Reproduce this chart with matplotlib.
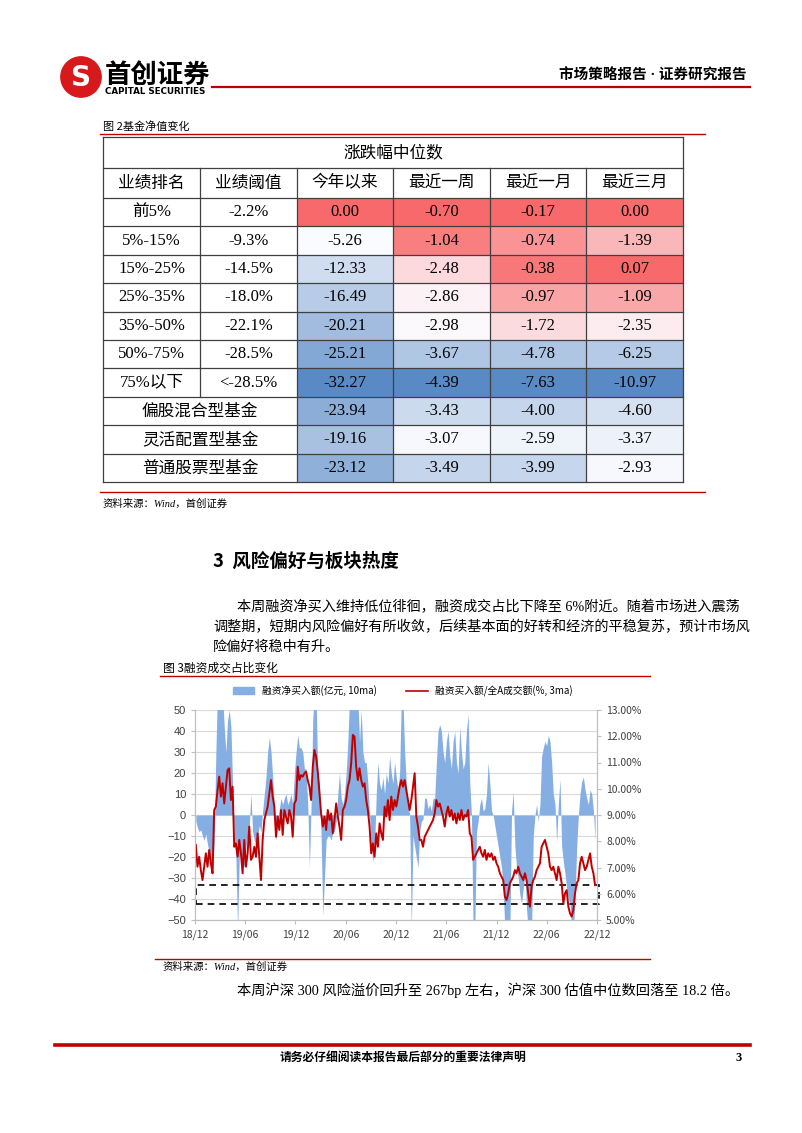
import numpy as np
import pandas as pd
import matplotlib
matplotlib.use('Agg')
import matplotlib.pyplot as plt
from matplotlib.patches import Rectangle, Circle, Patch
from matplotlib.lines import Line2D
from matplotlib.colors import LinearSegmentedColormap, TwoSlopeNorm
from matplotlib.transforms import blended_transform_factory

SERIF = ['Liberation Serif', 'Noto Sans CJK SC']
SANS = ['Noto Sans CJK SC', 'DejaVu Sans']
plt.rcParams['font.family'] = SERIF

# ---- table data (图 2) ----
rank_labels = ['前5%', '5%-15%', '15%-25%', '25%-35%', '35%-50%', '50%-75%', '75%以下']
thresholds = ['-2.2%', '-9.3%', '-14.5%', '-18.0%', '-22.1%', '-28.5%', '<-28.5%']
fund_types = ['偏股混合型基金', '灵活配置型基金', '普通股票型基金']
col_heads = ['业绩排名', '业绩阈值', '今年以来', '最近一周', '最近一月', '最近三月']
ytd = [0.00, -5.26, -12.33, -16.49, -20.21, -25.21, -32.27, -23.94, -19.16, -23.12]
week = [-0.70, -1.04, -2.48, -2.86, -2.98, -3.67, -4.39, -3.43, -3.07, -3.49]
month1 = [-0.17, -0.74, -0.38, -0.97, -1.72, -4.78, -7.63, -4.00, -2.59, -3.99]
month3 = [0.00, -1.39, 0.07, -1.09, -2.35, -6.25, -10.97, -4.60, -3.37, -2.93]

# ---- chart data (图 3) ----
# 融资买入额/全A成交额 (%, 3ma)
ratio_pct = [
    7.86, 7.03, 7.41, 6.90, 6.52, 7.03, 7.54, 7.03, 7.67, 7.16, 6.78,
    9.19, 9.32, 9.95, 10.46, 9.70, 10.21, 9.44, 10.08, 10.71, 10.78,
    9.57, 10.08, 7.79, 7.92, 7.41, 8.05, 7.54, 6.78, 8.05, 7.03,
    7.54, 8.56, 7.29, 7.41, 7.79, 7.41, 8.30, 7.41, 6.52, 8.05,
    8.81, 9.06, 9.32, 9.83, 10.33, 9.70, 9.32, 8.17, 8.94, 8.43,
    9.19, 8.24, 9.19, 8.94, 8.68, 9.19, 8.94, 8.17, 9.44, 9.57,
    10.84, 10.33,
    10.52, 10.46, 10.59, 10.65, 10.33, 10.08, 9.57, 10.84, 11.48, 11.22,
    10.65, 9.83, 9.06, 8.56, 8.94, 8.43, 9.19, 8.81, 9.06, 8.30,
    8.81, 9.44, 8.94, 8.56, 8.05, 9.19, 9.32, 9.57, 10.08, 10.33,
    10.97, 12.05, 11.98, 10.84, 10.33, 10.78, 10.33, 10.08, 10.21, 9.57,
    9.19, 8.56, 7.54, 7.92, 7.41, 8.30, 7.79, 8.68, 8.30, 8.05,
    9.32, 8.94, 9.57, 8.81, 9.70, 9.19, 9.57, 9.32, 9.70, 10.08,
    10.33, 10.08, 10.33, 9.95, 9.57, 9.19, 9.57, 10.08, 10.59, 8.94,
    8.56, 8.05,
    8.05, 7.79, 8.17, 8.30, 8.43, 8.56, 8.68, 8.81, 9.06, 9.57,
    9.32, 9.44, 9.19, 8.94, 8.56, 9.06, 9.32, 8.94, 9.19, 8.81,
    9.06, 8.68, 9.06, 8.81, 9.19, 8.81, 9.00, 8.94, 9.19, 8.30,
    8.17, 7.29, 7.41, 7.54, 7.67, 7.79, 7.54, 7.41, 7.67, 7.29,
    7.54, 7.41, 7.54, 7.29, 7.41, 7.16, 7.03, 6.78, 6.65, 6.52,
    5.89, 5.76, 6.02, 6.40, 6.52, 6.65, 6.90, 6.78, 7.03, 6.78,
    6.65, 6.52, 6.78, 6.52, 6.02, 5.51, 6.27, 6.52, 6.65, 6.90,
    7.03, 7.16, 7.79, 7.92, 8.05, 7.79, 7.54, 7.03, 6.90, 7.03,
    6.78, 6.52, 7.03, 6.78, 6.40, 5.63, 6.02, 6.14, 5.51, 5.25,
    5.13, 5.38, 6.02, 6.40, 6.52, 7.16, 7.41, 7.16, 6.90, 7.03,
    7.29, 7.54, 7.03, 6.78, 6.33,
]
# 融资净买入额 (亿元, 10ma)
net_buy = [
    -3, -6, -8, -7, -10, -12, -9, -14, -18, -25, -28,
    -12, 30, 60, 65, 60, 58, 42, 30, 45, 50,
    42, 15, -10, -20, -55, -20, -18, -22, -25, -15,
    -10, -5, 10, -8, -12, -15, -10, -5, -8, 2,
    10, 18, 30, 37, 30, 18, 5, -12, -5, 3,
    8, 5, 8, 10, 5, 7, 10, 5, 20, 30,
    38, 32,
    32, 30, 22, 22, 5, -25, 5, 45, 60, 55,
    20, 15, -10, -48, -30, -12, -10, -10, -12, -8,
    -8, -3, 10, 20, 8, 5, 10, 20, 35, 55,
    60, 65, 60, 60, 55, 35, 50, 30, 25, 25,
    15, 0, -15, -22, -15, 10, 25, 15, 12, 18,
    10, 20, 15, 28, 20, 15, 25, 18, 12, 20,
    55, 55, 30, 15, 5, 0, -55, -10, -15, -20,
    -25, -8,
    -3, -2, 8, 8, 3, 5, 2, 8, 8, 25,
    40, 43, 40, 30, 25, 35, 40, 28, 22, 35,
    40, 25, 20, 42, 30, 22, 25, 40, 48, 15,
    0, -55, -55, -8, -3, 5, 8, 2, 3, 10,
    25, 15, 2, 0, -5, -10, -15, -20, -25, -35,
    -55, -55, -55, -55, 2, 11, -15, -25, -30, -38,
    -42, -35, -28, -45, -55, -55, -55, -10, 0, 5,
    -3, 5, 28, 32, 35, 33, 38, 35, 25, 10,
    5, -13, 5, 17, -15, -22, -28, -35, -40, -42,
    -55, -55, -40, -15, 0, 10, 16, 18, 12, 8,
    5, 12, 10, 2, -12,
]

RED = '#C00000'
BLUE = '#85AEE3'

W, H = 802, 1133
fig = plt.figure(figsize=(W / 100, H / 100), dpi=100)


def fx(x):
    return x / W


def fy(y):
    return 1 - y / H


def txt(x, y, s, **kw):
    kw.setdefault('va', 'center')
    fig.text(fx(x), fy(y), s, **kw)


def hline(x0, x1, y, lw=1.0, color=RED):
    fig.add_artist(Line2D([fx(x0), fx(x1)], [fy(y), fy(y)], lw=lw, color=color))


# ---- page header ----
ax_logo = fig.add_axes([fx(60), fy(98), 42 / W, 42 / H])
ax_logo.set_xlim(0, 1)
ax_logo.set_ylim(0, 1)
ax_logo.set_aspect('equal')
ax_logo.axis('off')
ax_logo.add_patch(Circle((0.5, 0.5), 0.48, color='#D7191C'))
ax_logo.text(0.5, 0.47, 'S', color='white', fontsize=20, fontweight='bold',
             ha='center', va='center', family='DejaVu Sans')
txt(105, 75, '首创证券', fontsize=19, fontweight='bold', family=SANS)
txt(105, 92, 'CAPITAL SECURITIES', fontsize=6.3, fontweight='bold', family='DejaVu Sans')
txt(747, 76, '市场策略报告 · 证券研究报告', fontsize=10.5, fontweight='bold', ha='right', family=SERIF)
hline(212, 750, 87, lw=1.6)

# ---- 图 2 table ----
txt(103, 127, '图 2基金净值变化', fontsize=8, family=SANS)
hline(100, 705, 134, lw=1.0)

ax_t = fig.add_axes([fx(103), fy(482), (683 - 103) / W, (482 - 137) / H])
ax_t.set_xlim(103, 683)
ax_t.set_ylim(482, 137)
ax_t.axis('off')

xe = [103, 200, 297, 393, 490, 586, 683]
ye = [137, 168, 198] + [198 + 28.4 * (i + 1) for i in range(10)]

cmap = LinearSegmentedColormap.from_list('xl', ['#5A8AC6', '#FCFCFF', '#F8696B'])
cols = [ytd, week, month1, month3]
mids = [-5.0, np.median(week), np.median(month1), np.median(month3)]
for c, vals in enumerate(cols):
    norm = TwoSlopeNorm(vcenter=mids[c], vmin=min(vals), vmax=max(vals))
    for r, v in enumerate(vals):
        ax_t.add_patch(Rectangle((xe[c + 2], ye[r + 2]), xe[c + 3] - xe[c + 2],
                                 ye[r + 3] - ye[r + 2], color=cmap(norm(v)), lw=0))
        ax_t.text((xe[c + 2] + xe[c + 3]) / 2, (ye[r + 2] + ye[r + 3]) / 2, f'{v:.2f}',
                  ha='center', va='center', fontsize=12, family=SERIF)

for r in range(10):
    yc = (ye[r + 2] + ye[r + 3]) / 2
    if r < len(rank_labels):
        ax_t.text((xe[0] + xe[1]) / 2, yc, rank_labels[r], ha='center', va='center',
                  fontsize=12, family=SERIF)
        ax_t.text((xe[1] + xe[2]) / 2, yc, thresholds[r], ha='center', va='center',
                  fontsize=12, family=SERIF)
    else:
        ax_t.text((xe[0] + xe[2]) / 2, yc, fund_types[r - len(rank_labels)], ha='center',
                  va='center', fontsize=12, family=SANS)

ax_t.text((xe[0] + xe[-1]) / 2, (ye[0] + ye[1]) / 2, '涨跌幅中位数', ha='center',
          va='center', fontsize=12, family=SANS)
for c, h in enumerate(col_heads):
    ax_t.text((xe[c] + xe[c + 1]) / 2, (ye[1] + ye[2]) / 2, h, ha='center', va='center',
              fontsize=12, family=SANS)

LC = '#404040'
for y in ye:
    ax_t.plot([xe[0], xe[-1]], [y, y], color=LC, lw=0.9)
for i, x in enumerate(xe):
    if i in (0, len(xe) - 1):
        ax_t.plot([x, x], [ye[0], ye[-1]], color=LC, lw=0.9)
    elif i == 1:
        ax_t.plot([x, x], [ye[1], ye[9]], color=LC, lw=0.9)
    else:
        ax_t.plot([x, x], [ye[1], ye[-1]], color=LC, lw=0.9)
for a in ax_t.lines:
    a.set_clip_on(False)

hline(100, 705, 492, lw=1.0)
txt(103, 504, '资料来源：Wind，首创证券', fontsize=7.5, style='italic', family=SERIF)

# ---- section text ----
txt(213, 561, '3  风险偏好与板块热度', fontsize=13.3, fontweight='bold', family=SANS)
txt(237, 607, '本周融资净买入维持低位徘徊，融资成交占比下降至 6%附近。随着市场进入震荡',
    fontsize=10.2, family=SERIF)
txt(213, 627, '调整期，短期内风险偏好有所收敛，后续基本面的好转和经济的平稳复苏，预计市场风',
    fontsize=10.2, family=SERIF)
txt(213, 647, '险偏好将稳中有升。', fontsize=10.2, family=SERIF)

# ---- 图 3 chart ----
txt(163, 668, '图 3融资成交占比变化', fontsize=8.5, family=SANS)
hline(160, 650, 676, lw=1.0)

ax = fig.add_axes([fx(195), fy(920), (597 - 195) / W, (920 - 710) / H])
dates = pd.date_range('2018-12-04', '2022-11-24', periods=len(ratio_pct))
ax.fill_between(dates, 0, net_buy, color=BLUE, lw=0)
ax.set_ylim(-50, 50)
ax.set_yticks(range(-50, 51, 10))
ax.set_axisbelow(True)
ax.grid(axis='y', color='#D9D9D9', lw=0.8)
ax.set_xlim(pd.Timestamp('2018-12-01'), pd.Timestamp('2022-12-01'))
xt = pd.date_range('2018-12-01', '2022-12-01', freq='6MS')
ax.set_xticks(xt)
ax.set_xticklabels([d.strftime('%y/%m') for d in xt], family=SANS, fontsize=7.5)

ax2 = ax.twinx()
ax2.plot(dates, ratio_pct, color=RED, lw=1.4)
ax2.set_ylim(5, 13)
ax2.set_yticks(range(5, 14))
ax2.set_yticklabels([f'{v:.2f}%' for v in range(5, 14)], family=SANS, fontsize=7.5)

for a in (ax, ax2):
    a.spines['top'].set_visible(False)
    for s in ('left', 'right', 'bottom'):
        a.spines[s].set_color('#BFBFBF')
    a.tick_params(colors='#BFBFBF', labelcolor='#404040', length=3)
ax.tick_params(axis='y', labelsize=8)
for lab in ax.get_yticklabels():
    lab.set_family('Liberation Sans')

trans = blended_transform_factory(ax2.transAxes, ax2.transData)
ax2.add_patch(Rectangle((0.003, 5.62), 1.002, 0.71, transform=trans, fill=False,
                        ec='black', lw=1.2, ls=(0, (4, 3)), clip_on=False))

handles = [Patch(color=BLUE, label='融资净买入额(亿元, 10ma)'),
           Line2D([], [], color=RED, lw=1.2, label='融资买入额/全A成交额(%, 3ma)')]
ax.legend(handles=handles, loc='center', bbox_to_anchor=(fx(403), fy(691)),
          bbox_transform=fig.transFigure, ncol=2, frameon=False, columnspacing=3,
          handlelength=2.2, prop={'family': SANS, 'size': 7})

hline(155, 650, 959, lw=1.0)
txt(163, 967, '资料来源：Wind，首创证券', fontsize=7.5, style='italic', family=SERIF)
txt(237, 990, '本周沪深 300 风险溢价回升至 267bp 左右，沪深 300 估值中位数回落至 18.2 倍。',
    fontsize=10.3, family=SERIF)

# ---- footer ----
hline(55, 750, 1045, lw=2.6)
txt(403, 1058, '请务必仔细阅读本报告最后部分的重要法律声明', fontsize=8.5, fontweight='bold',
    ha='center', family=SANS)
txt(742, 1058, '3', fontsize=9, fontweight='bold', ha='right', family=SERIF)

fig.savefig('out.png', dpi=100)
